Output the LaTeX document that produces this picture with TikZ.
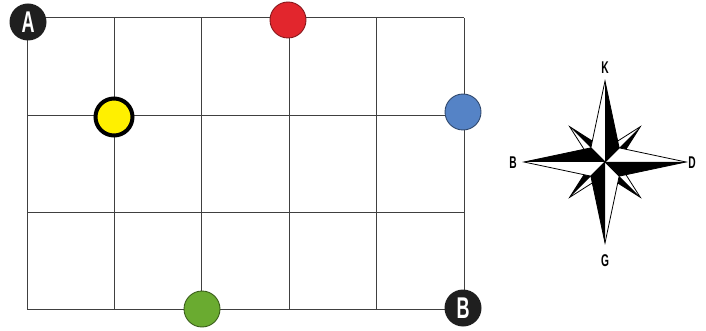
\documentclass[tikz,border=0pt]{standalone}
\usepackage{fontspec}
\usepackage{xcolor}
\newfontfamily\narrowfont[FakeStretch=0.6]{Liberation Sans}
\definecolor{redfill}{HTML}{E2262D}
\definecolor{bluefill}{HTML}{5583C6}
\definecolor{greenfill}{HTML}{6AAB30}
\definecolor{yellowfill}{HTML}{FFF000}

\begin{document}
\begin{tikzpicture}[x=1pt,y=-1pt,
  gridline/.style={black!75,line width=1pt},
  dot/.style={circle,minimum size=36pt,inner sep=0pt,line width=0.9pt},
  corner/.style={circle,fill=black!88,minimum size=37pt,inner sep=0pt,text=white,
    font=\narrowfont\bfseries\fontsize{30}{30}\selectfont},
  dirlabel/.style={inner sep=0pt,font=\narrowfont\bfseries\fontsize{17}{17}\selectfont}]
  \useasboundingbox (0,0) rectangle (706,331);
  % grid
  \foreach \c in {0,...,5}{\draw[gridline] ({27+87.4*\c},18) -- ({27+87.4*\c},310);}
  \foreach \r in {0,...,3}{\draw[gridline] (27,{18+97.33*\r}) -- (464,{18+97.33*\r});}
  % dots
  \node[dot,fill=redfill,draw=redfill!60!black] (red) at (288,20) {};
  \node[dot,fill=bluefill,draw=bluefill!55!black] (blue) at (463,112) {};
  \node[dot,fill=greenfill,draw=greenfill!55!black] (green) at (202,309) {};
  \node[dot,fill=yellowfill,draw=black,line width=4pt,minimum size=37pt] (yellow) at (114,117) {};
  \node[corner] (A) at (28,22) {A};
  \node[corner] (B) at (463,308) {B};
  % compass rose
  \begin{scope}[shift={(605,162)},yscale=-1,line width=0.8pt,line join=miter]
    \foreach \a in {45,135,225,315}{
      \fill[white] (0,0) -- ({\a+17}:22) -- (\a:50) -- cycle;
      \fill[black] (0,0) -- ({\a-17}:22) -- (\a:50) -- cycle;
      \draw (0,0) -- ({\a+17}:22) -- (\a:50) -- ({\a-17}:22) -- cycle;
    }
    \foreach \a in {0,90,180,270}{
      \fill[white] (0,0) -- ({\a+45}:20) -- (\a:81) -- cycle;
      \fill[black] (0,0) -- ({\a-45}:20) -- (\a:81) -- cycle;
      \draw (0,0) -- ({\a+45}:20) -- (\a:81) -- ({\a-45}:20) -- cycle;
    }
  \end{scope}
  \node[dirlabel] (north) at (605,68) {K};
  \node[dirlabel] (west) at (513,163) {B};
  \node[dirlabel] (east) at (692,163) {D};
  \node[dirlabel] (south) at (605,261) {G};
\end{tikzpicture}
\end{document}
